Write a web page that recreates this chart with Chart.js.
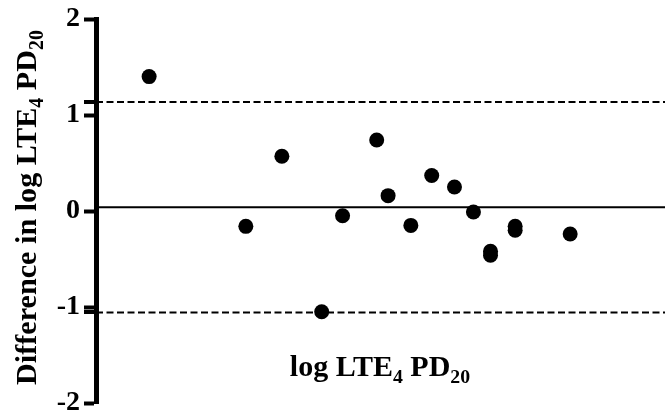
<!DOCTYPE html>
<html>
<head>
<meta charset="utf-8">
<script src="https://cdn.jsdelivr.net/npm/chart.js@4/dist/chart.umd.min.js"></script>
<style>
  html, body { margin: 0; padding: 0; background: #fff; }
  #wrap { width: 665px; height: 416px; position: relative; }
</style>
</head>
<body>
<div id="wrap"><canvas id="baChart"></canvas></div>
<script>
// Bland-Altman data: mean of the two log LTE4 PD20 measurements vs their difference
const meanValues = [0.28, 0.79, 0.98, 1.19, 1.30, 1.48, 1.54, 1.66, 1.77, 1.89, 1.99, 2.08, 2.08, 2.21, 2.21, 2.50];
const diffValues = [1.40, -0.16, 0.57, -1.05, -0.05, 0.74, 0.16, -0.15, 0.37, 0.25, -0.01, -0.42, -0.46, -0.16, -0.20, -0.24];

// bias and limits of agreement
const biasLine = 0.04;
const upperLimit = 1.135;
const lowerLimit = -1.057;

// axes
const xRange = [0, 3];
const yTicks = [-2, -1, 0, 1, 2];

const serif = "'Liberation Serif', 'Times New Roman', serif";

const points = meanValues.map((m, i) => ({ x: m, y: diffValues[i] }));
const flatLine = v => [{ x: xRange[0], y: v }, { x: xRange[1], y: v }];

// width of a string made of normal and subscript pieces
function partsWidth(ctx, parts, size) {
    const subSize = size * 0.66;
    let total = 0;
    parts.forEach(p => {
        ctx.font = `bold ${p.sub ? subSize : size}px ${serif}`;
        total += ctx.measureText(p.t).width;
    });
    return total;
}

// draws the pieces centred on (0, 0), subscripts dropped below the baseline
function drawParts(ctx, parts, size) {
    const subSize = size * 0.66;
    let x = -partsWidth(ctx, parts, size) / 2;
    parts.forEach(p => {
        ctx.font = `bold ${p.sub ? subSize : size}px ${serif}`;
        ctx.fillText(p.t, x, p.sub ? size * 0.24 : 0);
        x += ctx.measureText(p.t).width;
    });
}

const yTitleParts = [
    { t: 'Difference in log LTE' }, { t: '4', sub: true },
    { t: ' PD' }, { t: '20', sub: true }
];
const xTitleParts = [
    { t: 'log LTE' }, { t: '4', sub: true },
    { t: ' PD' }, { t: '20', sub: true }
];

const labelsPlugin = {
    id: 'baLabels',
    afterDraw(chart) {
        const ctx = chart.ctx;
        const yScale = chart.scales.y;
        const left = chart.chartArea.left;

        // small marks on the axis at the limits of agreement
        ctx.save();
        ctx.strokeStyle = '#000';
        ctx.lineWidth = 4;
        [upperLimit, lowerLimit].forEach(v => {
            const py = Math.round(yScale.getPixelForValue(v));
            ctx.beginPath();
            ctx.moveTo(left - 12, py);
            ctx.lineTo(left, py);
            ctx.stroke();
        });
        ctx.restore();

        ctx.save();
        ctx.fillStyle = '#000';
        ctx.textBaseline = 'alphabetic';
        ctx.textAlign = 'left';

        // y axis title, sized to run from y=385 up to y=30
        const ySize = 32 * 355 / partsWidth(ctx, yTitleParts, 32);
        ctx.save();
        ctx.translate(36, 207.5);
        ctx.rotate(-Math.PI / 2);
        drawParts(ctx, yTitleParts, ySize);
        ctx.restore();

        // x label inside the plot
        ctx.save();
        ctx.translate(380, 376);
        drawParts(ctx, xTitleParts, 30);
        ctx.restore();

        ctx.restore();
    }
};

new Chart(document.getElementById('baChart'), {
    type: 'scatter',
    data: {
        datasets: [{
            label: 'Difference',
            data: points,
            backgroundColor: '#000',
            borderWidth: 0,
            pointRadius: 7.5,
            pointHoverRadius: 7.5
        }, {
            type: 'line',
            label: 'Bias',
            data: flatLine(biasLine),
            borderColor: '#000',
            borderWidth: 2,
            pointRadius: 0,
            fill: false
        }, {
            type: 'line',
            label: 'Upper limit',
            data: flatLine(upperLimit),
            borderColor: '#000',
            borderWidth: 2,
            borderDash: [7, 3.5],
            pointRadius: 0,
            fill: false
        }, {
            type: 'line',
            label: 'Lower limit',
            data: flatLine(lowerLimit),
            borderColor: '#000',
            borderWidth: 2,
            borderDash: [7, 3.5],
            pointRadius: 0,
            fill: false
        }]
    },
    options: {
        responsive: true,
        maintainAspectRatio: false,
        animation: false,
        layout: { autoPadding: false, padding: { top: 19, bottom: 13, left: 0, right: 0 } },
        plugins: {
            legend: { display: false },
            tooltip: { enabled: false }
        },
        scales: {
            x: {
                type: 'linear',
                min: xRange[0],
                max: xRange[1],
                display: false
            },
            y: {
                min: yTicks[0],
                max: yTicks[yTicks.length - 1],
                afterBuildTicks(scale) {
                    scale.ticks = yTicks.map(v => ({ value: v }));
                },
                afterFit(scale) {
                    scale.width = 96;
                    scale.paddingTop = 0;
                    scale.paddingBottom = 0;
                },
                border: { display: true, color: '#000', width: 5 },
                grid: {
                    drawOnChartArea: false,
                    drawTicks: true,
                    tickLength: 12,
                    tickWidth: 4,
                    tickColor: '#000'
                },
                ticks: {
                    color: '#000',
                    padding: 4,
                    font: { family: serif, size: 28, weight: 'bold' }
                }
            }
        }
    },
    plugins: [labelsPlugin]
});
</script>
</body>
</html>
